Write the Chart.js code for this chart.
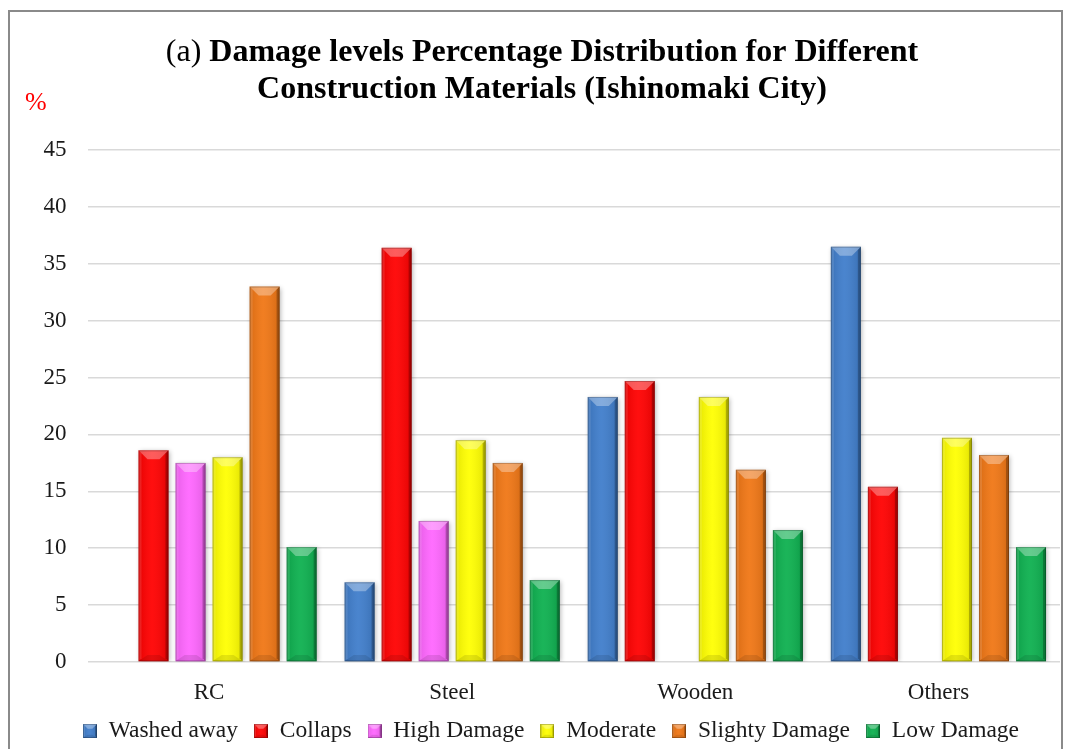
<!DOCTYPE html>
<html>
<head>
<meta charset="utf-8">
<title>Damage levels - Ishinomaki City</title>
<script src="https://cdn.jsdelivr.net/npm/chart.js@4.4.0/dist/chart.umd.min.js"></script>
<style>
  html, body { margin: 0; padding: 0; background: #fff; overflow: hidden; }
  #wrap { width: 1069px; height: 760px; }
</style>
</head>
<body>
<div id="wrap"><canvas id="damageChart" width="1069" height="760"></canvas></div>
<script>
// categories and damage-level percentages
const materials = ['RC', 'Steel', 'Wooden', 'Others'];
const washedAway = [0, 7.0, 23.3, 36.5];
const collaps = [18.6, 36.4, 24.7, 15.4];
const highDamage = [17.5, 12.4, 0, 0];
const moderate = [18.0, 19.5, 23.3, 19.7];
const slightyDamage = [33.0, 17.5, 16.9, 18.2];
const lowDamage = [10.1, 7.2, 11.6, 10.1];
const yTicks = [0, 5, 10, 15, 20, 25, 30, 35, 40, 45];

const seriesNames = ['Washed away', 'Collaps', 'High Damage', 'Moderate', 'Slighty Damage', 'Low Damage'];
const seriesValues = [washedAway, collaps, highDamage, moderate, slightyDamage, lowDamage];
const seriesColors = ['#3f7dcb', '#ff0000', '#ff66ff', '#ffff00', '#f07614', '#0db04f'];

const titlePrefix = '(a) ';
const titleLine1 = 'Damage levels Percentage Distribution for Different';
const titleLine2 = 'Construction Materials (Ishinomaki City)';

const SERIF = '"Liberation Serif", "Times New Roman", serif';
Chart.defaults.font.family = SERIF;
Chart.defaults.color = '#1a1a1a';

const LEGEND_SHIFT = 21;   // legend sits a little right of centre

// bevelled face: light top facet, dark right and bottom edges
function bevel(ctx, L, T, R, B, d, s) {
  const w = R - L, h = B - T;
  if (h < 1 || w < 1) return;
  d = Math.min(d, w / 3, h / 2);
  s = Math.min(s, w / 6, h / 4);
  function poly(pts, fill) {
    ctx.beginPath();
    ctx.moveTo(pts[0][0], pts[0][1]);
    for (let i = 1; i < pts.length; i++) ctx.lineTo(pts[i][0], pts[i][1]);
    ctx.closePath();
    ctx.fillStyle = fill;
    ctx.fill();
  }
  // soft horizontal shading across the face
  const g = ctx.createLinearGradient(L, 0, R, 0);
  g.addColorStop(0, 'rgba(0,0,0,0.10)');
  g.addColorStop(0.45, 'rgba(255,255,255,0.06)');
  g.addColorStop(1, 'rgba(0,0,0,0.12)');
  ctx.fillStyle = g;
  ctx.fillRect(L, T, w, h);
  poly([[L, T], [L + s, T + s], [L + s, B - s], [L, B]], 'rgba(255,255,255,0.12)');
  poly([[R, T], [R - s, T + s], [R - s, B - s], [R, B]], 'rgba(0,0,0,0.25)');
  poly([[L, B], [R, B], [R - d, B - d * 0.7], [L + d, B - d * 0.7]], 'rgba(0,0,0,0.10)');
  poly([[L, T], [R, T], [R - d, T + d], [L + d, T + d]], 'rgba(255,255,255,0.32)');
  ctx.strokeStyle = 'rgba(0,0,0,0.22)';
  ctx.lineWidth = 1;
  ctx.strokeRect(L + 0.5, T + 0.5, w - 1, h - 1);
}

// small bevelled squares for the legend
function marker(color) {
  const c = document.createElement('canvas');
  c.width = 14; c.height = 14;
  const mctx = c.getContext('2d');
  mctx.fillStyle = color;
  mctx.fillRect(0, 0, 14, 14);
  bevel(mctx, 0, 0, 14, 14, 5, 2);
  return c;
}

const datasets = seriesNames.map((name, i) => ({
  label: name,
  data: seriesValues[i],
  backgroundColor: seriesColors[i],
  borderWidth: 0,
  pointStyle: marker(seriesColors[i]),
  categoryPercentage: 0.914,
  barPercentage: 0.81
}));

const framePlugin = {
  id: 'frame',
  beforeDraw(chart) {
    const ctx = chart.ctx;
    ctx.save();
    ctx.fillStyle = '#ffffff';
    ctx.fillRect(0, 0, chart.width, chart.height);
    ctx.strokeStyle = '#8a8a8a';
    ctx.lineWidth = 2;
    ctx.strokeRect(9, 11, 1053, 800);
    ctx.restore();
  },
  afterLayout(chart) {
    chart.legend.left += LEGEND_SHIFT;
    chart.legend.right += LEGEND_SHIFT;
  }
};

const barStylePlugin = {
  id: 'barStyle',
  beforeDatasetsDraw(chart) {
    const ctx = chart.ctx;
    ctx.save();
    ctx.shadowColor = 'rgba(0,0,0,0.32)';
    ctx.shadowBlur = 5;
    ctx.shadowOffsetX = 1;
    ctx.shadowOffsetY = 1;
  },
  afterDatasetsDraw(chart) {
    const ctx = chart.ctx;
    ctx.restore();
    ctx.save();
    chart.data.datasets.forEach((ds, i) => {
      chart.getDatasetMeta(i).data.forEach(bar => {
        const p = bar.getProps(['x', 'y', 'base', 'width'], true);
        bevel(ctx, p.x - p.width / 2, p.y, p.x + p.width / 2, p.base, 9, 3);
      });
    });
    ctx.restore();
  }
};

const titlePlugin = {
  id: 'chartTitle',
  afterDraw(chart) {
    const ctx = chart.ctx;
    const cx = 542;
    const normal = '32px ' + SERIF, bold = 'bold 32px ' + SERIF;
    ctx.save();
    ctx.fillStyle = '#000';
    ctx.textBaseline = 'alphabetic';
    ctx.font = normal;
    const w1 = ctx.measureText(titlePrefix).width;
    ctx.font = bold;
    const w2 = ctx.measureText(titleLine1).width;
    const x0 = cx - (w1 + w2) / 2;
    ctx.textAlign = 'left';
    ctx.font = normal;
    ctx.fillText(titlePrefix, x0, 61);
    ctx.font = bold;
    ctx.fillText(titleLine1, x0 + w1, 61);
    ctx.textAlign = 'center';
    ctx.fillText(titleLine2, cx, 98);
    // unit label for the value axis
    ctx.fillStyle = '#ff0000';
    ctx.font = '26px ' + SERIF;
    ctx.textAlign = 'left';
    ctx.fillText('%', 25, 110);
    ctx.restore();
  }
};

const ctx = document.getElementById('damageChart').getContext('2d');
const damageChart = new Chart(ctx, {
  type: 'bar',
  data: { labels: materials, datasets: datasets },
  options: {
    responsive: false,
    animation: false,
    layout: { padding: { left: 0, right: 9, top: 150, bottom: 7.25 } },
    plugins: {
      title: { display: false },
      tooltip: { enabled: false },
      legend: {
        position: 'bottom',
        labels: {
          usePointStyle: true,
          boxWidth: 14,
          boxHeight: 14,
          padding: 16,
          color: '#1a1a1a',
          font: { size: 23.5, family: SERIF }
        }
      }
    },
    scales: {
      x: {
        grid: { display: false, drawTicks: false },
        border: { display: false },
        ticks: { padding: 17.5, color: '#1a1a1a', font: { size: 23, family: SERIF } },
        afterFit(scale) { scale.height = 41.25; }
      },
      y: {
        min: 0,
        max: 45,
        afterBuildTicks(scale) { scale.ticks = yTicks.map(v => ({ value: v })); },
        grid: { color: '#d9d9d9', lineWidth: 1.5, drawTicks: false },
        border: { display: false },
        ticks: { padding: 21, color: '#1a1a1a', font: { size: 23, family: SERIF } },
        afterFit(scale) { scale.width = 87.5; }
      }
    }
  },
  plugins: [framePlugin, barStylePlugin, titlePlugin]
});
</script>
</body>
</html>
